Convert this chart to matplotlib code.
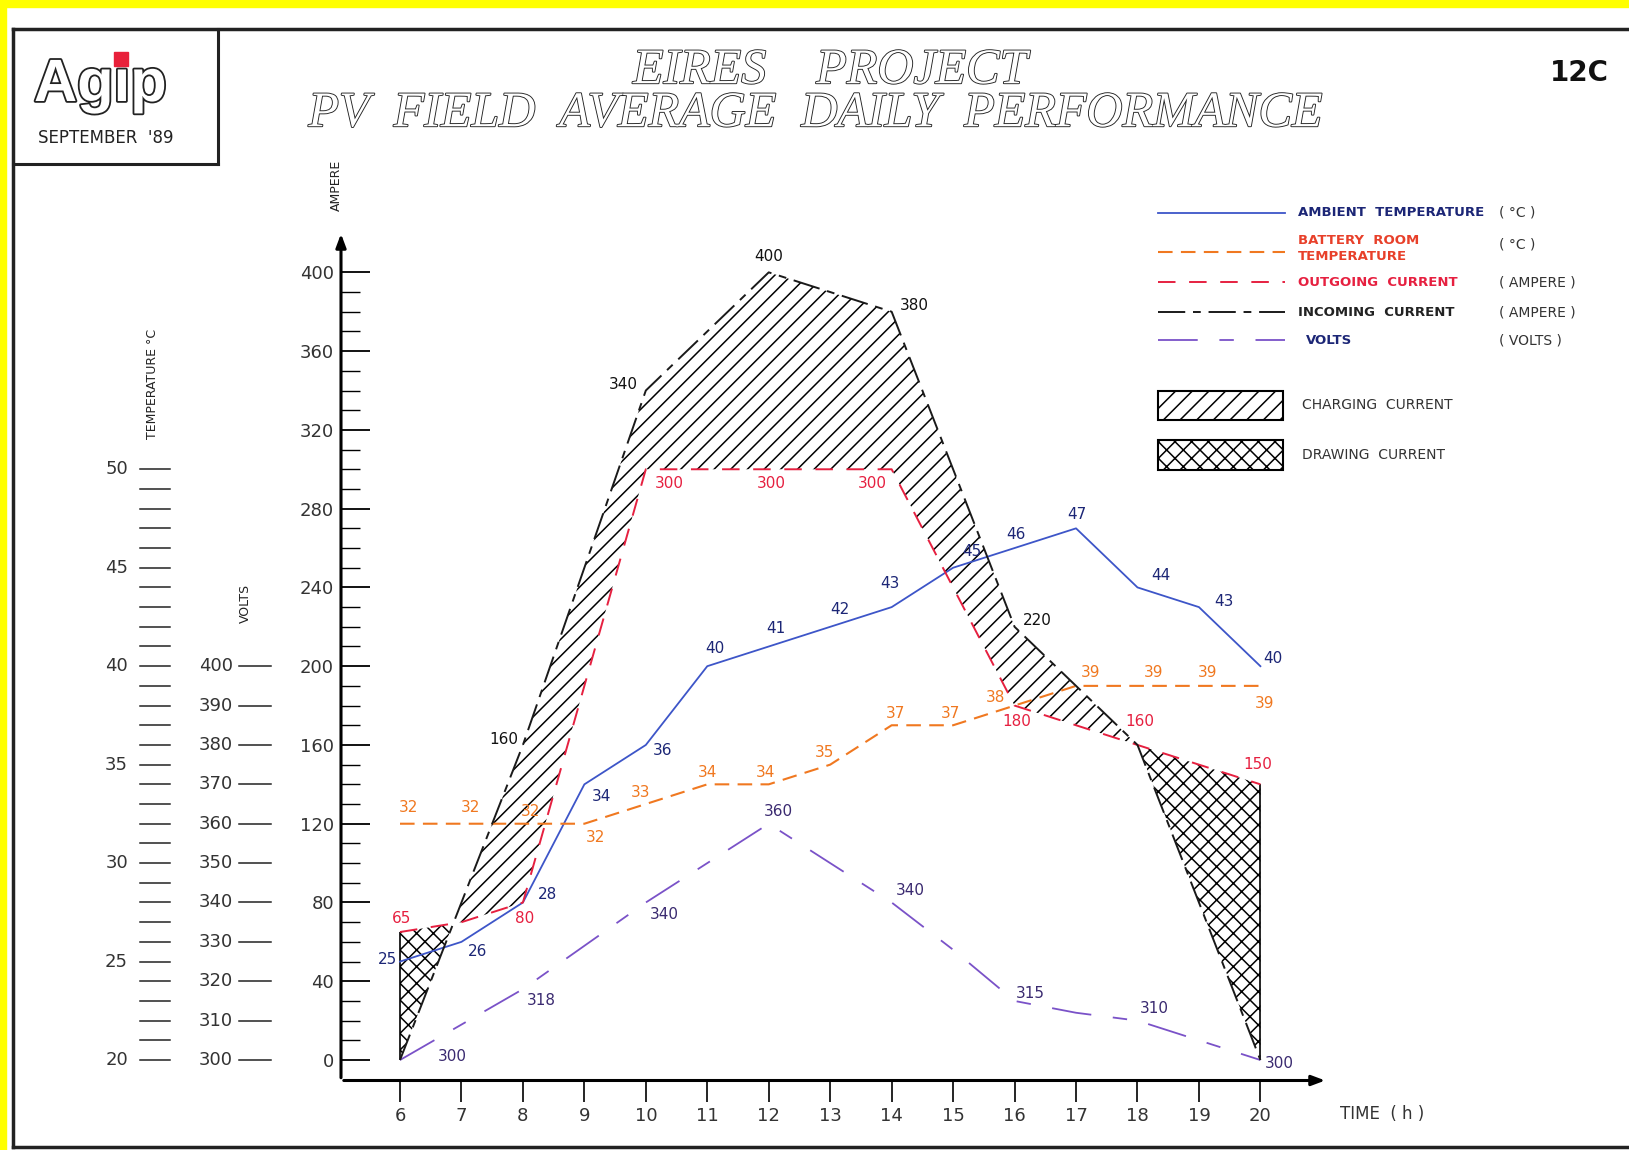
import numpy as np
import matplotlib
matplotlib.use("Agg")
import matplotlib.pyplot as plt
import matplotlib.patheffects as pe
from matplotlib.patches import Rectangle
from matplotlib.transforms import blended_transform_factory

# Data (hourly readings)
hours      = [6, 7, 8, 9, 10, 11, 12, 13, 14, 15, 16, 17, 18, 19, 20]
incoming_a = [0, 80, 160, 250, 340, 370, 400, 390, 380, 300, 220, 190, 160, 80, 0]
outgoing_a = [65, 70, 80, 190, 300, 300, 300, 300, 300, 240, 180, 170, 160, 150, 140]
ambient_c  = [25, 26, 28, 34, 36, 40, 41, 42, 43, 45, 46, 47, 44, 43, 40]
battery_c  = [32, 32, 32, 32, 33, 34, 34, 35, 37, 37, 38, 39, 39, 39, 39]
volts_v    = [300, 309, 318, 329, 340, 350, 360, 350, 340, 328, 315, 312, 310, 305, 300]

amp_ticks   = list(range(0, 401, 40))
temp_ticks  = list(range(20, 51))
temp_labels = list(range(20, 51, 5))
volt_ticks  = list(range(300, 401, 10))

# point labels: (hour, ampere-scale position, text)
incoming_labels = [(12.0, 408, "400"), (14.37, 383, "380"), (9.64, 343, "340"),
                   (7.69, 163, "160"), (16.37, 223, "220")]
volts_labels = [(6.85, 2, "300"), (8.3, 30, "318"), (10.3, 74, "340"), (12.15, 126, "360"),
                (14.3, 86, "340"), (16.26, 34, "315"), (18.28, 26, "310"), (20.3, -2, "300")]
ambient_labels = [(5.8, 51, "25"), (7.27, 55, "26"), (8.4, 84, "28"), (9.28, 134, "34"),
                  (10.28, 157, "36"), (11.12, 209, "40"), (12.12, 219, "41"), (13.15, 229, "42"),
                  (13.98, 242, "43"), (15.3, 258, "45"), (16.03, 267, "46"), (17.02, 277, "47"),
                  (18.38, 246, "44"), (19.41, 233, "43"), (20.2, 204, "40")]
battery_labels = [(6.14, 128, "32"), (7.15, 128, "32"), (8.13, 126, "32"), (9.18, 113, "32"),
                  (9.92, 136, "33"), (11.0, 146, "34"), (11.95, 146, "34"), (12.9, 156, "35"),
                  (14.07, 176, "37"), (14.96, 176, "37"), (15.69, 184, "38"), (17.24, 197, "39"),
                  (18.26, 197, "39"), (19.14, 197, "39"), (20.07, 181, "39")]
outgoing_labels = [(6.03, 72, "65"), (8.03, 72, "80"), (10.38, 293, "300"), (12.04, 293, "300"),
                   (13.69, 293, "300"), (16.03, 172, "180"), (18.04, 172, "160"), (19.95, 150, "150")]

# colours / styles
C_AMB = "#3d55c8"
C_AMB_TXT = "#1c2676"
C_BAT = "#f07820"
C_OUT = "#e62040"
C_INC = "#1a1a1a"
C_VOL = "#7a52c8"
C_VOL_TXT = "#3a2a70"
LS_INC = (0, (14, 4, 4, 4))
LS_OUT = (0, (9, 7))
LS_BAT = (0, (7, 4))
LS_VOL = (0, (22, 12, 8, 12))


def temp_to_amp(t):
    return (np.asarray(t) - 20) * 10


def volt_to_amp(v):
    return (np.asarray(v) - 300) * 2


plt.rcParams['hatch.linewidth'] = 1.1
W, H = 1629, 1150
fig = plt.figure(figsize=(W / 100, H / 100), dpi=100, facecolor="white")

# decoration layer in pixel coordinates
deco = fig.add_axes([0, 0, 1, 1], zorder=0)
deco.set_xlim(0, W)
deco.set_ylim(H, 0)
deco.axis("off")

# main chart axes
ax = fig.add_axes([341 / W, 1 - 1080.5 / H, (1328 - 341) / W, (1080.5 - 231) / H], zorder=1)
ax.patch.set_alpha(0)
ax.set_xlim(5.04, 21.1)
ax.set_ylim(-10.4, 421)
for s in ax.spines.values():
    s.set_visible(False)

x = np.array(hours)
inc = np.array(incoming_a)
out = np.array(outgoing_a)

# charging / drawing areas
ax.fill_between(x, inc, out, where=inc >= out, interpolate=True, facecolor="white",
                edgecolor="black", hatch="//", linewidth=0, zorder=2)
ax.fill_between(x, inc, out, where=out >= inc, interpolate=True, facecolor="white",
                edgecolor="black", hatch="xx", linewidth=0, zorder=2)
ax.vlines([x[0], x[-1]], [inc[0], inc[-1]], [out[0], out[-1]], color="black", lw=1.2, zorder=3)

# series
ax.plot(x, temp_to_amp(ambient_c), color=C_AMB, lw=1.3, zorder=4)
ax.plot(x, temp_to_amp(battery_c), color=C_BAT, lw=1.5, ls=LS_BAT, zorder=4)
ax.plot(x, out, color=C_OUT, lw=1.4, ls=LS_OUT, zorder=5)
ax.plot(x, inc, color=C_INC, lw=1.4, ls=LS_INC, zorder=5)
ax.plot(x, volt_to_amp(volts_v), color=C_VOL, lw=1.3, ls=LS_VOL, zorder=4)

# point labels
def put_labels(items, color, weight="normal"):
    for hx, ay, txt in items:
        ax.text(hx, ay, txt, color=color, fontsize=11, ha="center", va="center",
                fontweight=weight, zorder=6)

put_labels(incoming_labels, "#111111")
put_labels(volts_labels, C_VOL_TXT)
put_labels(ambient_labels, C_AMB_TXT)
put_labels(battery_labels, C_BAT)
put_labels(outgoing_labels, C_OUT)

# axes arrows
ax.annotate("", xy=(0, 1), xytext=(0, 0), xycoords="axes fraction",
            arrowprops=dict(arrowstyle="-|>,head_length=0.8,head_width=0.3", color="black", lw=2.2))
ax.annotate("", xy=(1, 0), xytext=(0, 0), xycoords="axes fraction",
            arrowprops=dict(arrowstyle="-|>,head_length=0.8,head_width=0.3", color="black", lw=2.2))

# ampere ticks
ax.set_yticks(amp_ticks)
ax.set_yticklabels([str(v) for v in amp_ticks])
ax.set_yticks(list(range(0, 401, 10)), minor=True)
ax.tick_params(axis="y", which="major", direction="in", length=21, width=1.3, pad=5,
               labelsize=13, labelcolor="#333333")
ax.tick_params(axis="y", which="minor", direction="in", length=14, width=1.0)
ax.set_xticks(hours)
ax.set_xticklabels([str(h) for h in hours])
ax.tick_params(axis="x", direction="out", length=15, width=1.2, pad=4,
               labelsize=13, labelcolor="#333333")

# temperature and volts scales, left of the ampere axis
blend = blended_transform_factory(deco.transData, ax.transData)
for t in temp_ticks:
    ya = temp_to_amp(t)
    ax.plot([140, 170], [ya, ya], color="#222222", lw=1.1, transform=blend, clip_on=False)
for t in temp_labels:
    ax.text(128, temp_to_amp(t), str(t), transform=blend, ha="right", va="center",
            fontsize=13, color="#333333")
for v in volt_ticks:
    ya = volt_to_amp(v)
    ax.plot([239, 271], [ya, ya], color="#222222", lw=1.1, transform=blend, clip_on=False)
    ax.text(233, ya, str(v), transform=blend, ha="right", va="center",
            fontsize=13, color="#333333")

deco.text(336, 185, "AMPERE", rotation=90, ha="center", va="center", fontsize=9, color="#222222")
deco.text(153, 384, "TEMPERATURE °C", rotation=90, ha="center", va="center", fontsize=9, color="#222222")
deco.text(245, 603, "VOLTS", rotation=90, ha="center", va="center", fontsize=9, color="#222222")
deco.text(1382, 1114, "TIME  ( h )", ha="center", va="center", fontsize=12, color="#333333")

# frame and yellow border
deco.add_patch(Rectangle((0, 0), W, 7, color="#ffff00", zorder=0))
deco.add_patch(Rectangle((0, 0), 6, H, color="#ffff00", zorder=0))
deco.plot([13, W], [29, 29], color="#222222", lw=2.5)
deco.plot([13, 13], [29, 1147], color="#222222", lw=2.5)
deco.plot([13, W], [1147, 1147], color="#222222", lw=2.5)
deco.plot([218, 218], [29, 164], color="#222222", lw=2.2)
deco.plot([13, 218], [164, 164], color="#222222", lw=2.2)

# logo box
outline = [pe.withStroke(linewidth=2.6, foreground="#222222")]
deco.text(34, 101, "Agip", fontsize=43, family="Liberation Sans", fontweight="bold",
          color="white", ha="left", va="baseline", path_effects=outline)
deco.text(106, 138, "SEPTEMBER  '89", fontsize=12, ha="center", va="center", color="#222222")

# titles
title_fx = [pe.withStroke(linewidth=1.3, foreground="#222222")]
deco.text(830, 71, "EIRES    PROJECT", fontsize=36, family="Liberation Serif", style="italic",
          color="white", ha="center", va="center", path_effects=title_fx)
deco.text(815, 114, "PV  FIELD  AVERAGE  DAILY  PERFORMANCE", fontsize=36,
          family="Liberation Serif", style="italic", color="white", ha="center", va="center",
          path_effects=title_fx)
deco.text(1579, 73, "12C", fontsize=20, fontweight="bold", ha="center", va="center", color="#111111")

# legend
leg_x0, leg_x1 = 1158, 1285
deco.plot([leg_x0, leg_x1], [213, 213], color=C_AMB, lw=1.3)
deco.plot([leg_x0, leg_x1], [252, 252], color=C_BAT, lw=1.5, ls=LS_BAT)
deco.plot([leg_x0, leg_x1], [282, 282], color=C_OUT, lw=1.4, ls=LS_OUT)
deco.plot([leg_x0, leg_x1], [312, 312], color=C_INC, lw=1.4, ls=LS_INC)
deco.plot([leg_x0, leg_x1], [340, 340], color=C_VOL, lw=1.3, ls=LS_VOL)
lt = dict(fontsize=9.5, fontweight="bold", ha="left", va="center")
deco.text(1298, 213, "AMBIENT  TEMPERATURE", color=C_AMB_TXT, **lt)
deco.text(1298, 240, "BATTERY  ROOM", color="#e8402a", **lt)
deco.text(1298, 257, "TEMPERATURE", color="#e8402a", **lt)
deco.text(1298, 282, "OUTGOING  CURRENT", color=C_OUT, **lt)
deco.text(1298, 312, "INCOMING  CURRENT", color="#222222", **lt)
deco.text(1306, 340, "VOLTS", color=C_AMB_TXT, **lt)
ut = dict(fontsize=10, ha="left", va="center", color="#333333")
deco.text(1499, 213, "( °C )", **ut)
deco.text(1499, 244, "( °C )", **ut)
deco.text(1499, 282, "( AMPERE )", **ut)
deco.text(1499, 312, "( AMPERE )", **ut)
deco.text(1499, 340, "( VOLTS )", **ut)

deco.add_patch(Rectangle((1158, 391), 125, 29, facecolor="white", edgecolor="black",
                         hatch="//", lw=1.5))
deco.add_patch(Rectangle((1158, 440), 125, 30, facecolor="white", edgecolor="black",
                         hatch="xx", lw=1.5))
deco.text(1302, 405, "CHARGING  CURRENT", fontsize=10, ha="left", va="center", color="#333333")
deco.text(1302, 455, "DRAWING  CURRENT", fontsize=10, ha="left", va="center", color="#333333")

# red dot of the logo, drawn over the i
deco.add_patch(Rectangle((114, 52), 14, 14, color="#e8203a", zorder=5))

fig.savefig("out.png", dpi=100, facecolor="white")
